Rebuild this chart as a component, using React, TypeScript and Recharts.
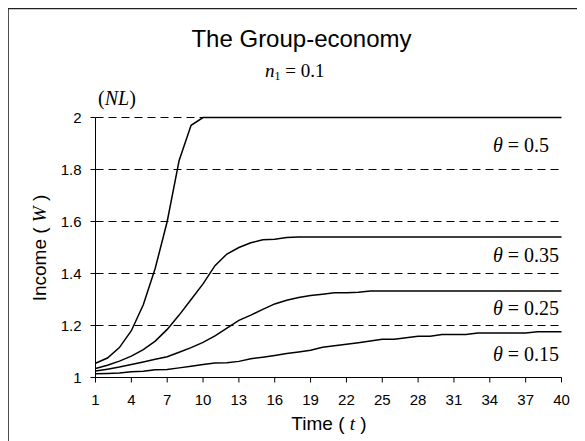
import { LineChart, Line, XAxis, YAxis, CartesianGrid } from "recharts";

const times = [
  1, 2, 3, 4, 5, 6, 7, 8, 9, 10, 11, 12, 13, 14, 15, 16, 17, 18, 19, 20,
  21, 22, 23, 24, 25, 26, 27, 28, 29, 30, 31, 32, 33, 34, 35, 36, 37, 38, 39, 40,
];

const theta050 = [
  1.055, 1.075, 1.115, 1.18, 1.28, 1.42, 1.6, 1.835, 1.97, 2.0,
  2.0, 2.0, 2.0, 2.0, 2.0, 2.0, 2.0, 2.0, 2.0, 2.0,
  2.0, 2.0, 2.0, 2.0, 2.0, 2.0, 2.0, 2.0, 2.0, 2.0,
  2.0, 2.0, 2.0, 2.0, 2.0, 2.0, 2.0, 2.0, 2.0, 2.0,
];

const theta035 = [
  1.035, 1.047, 1.063, 1.082, 1.107, 1.14, 1.185, 1.24, 1.3, 1.36,
  1.43, 1.475, 1.5, 1.518, 1.53, 1.532, 1.538, 1.54, 1.54, 1.54,
  1.54, 1.54, 1.54, 1.54, 1.54, 1.54, 1.54, 1.54, 1.54, 1.54,
  1.54, 1.54, 1.54, 1.54, 1.54, 1.54, 1.54, 1.54, 1.54, 1.54,
];

const theta025 = [
  1.025, 1.032, 1.04, 1.05, 1.06, 1.07, 1.08, 1.097, 1.115, 1.135,
  1.16, 1.19, 1.22, 1.24, 1.262, 1.283, 1.297, 1.308, 1.315, 1.32,
  1.326, 1.326, 1.328, 1.333, 1.333, 1.333, 1.333, 1.333, 1.333, 1.333,
  1.333, 1.333, 1.333, 1.333, 1.333, 1.333, 1.333, 1.333, 1.333, 1.333,
];

const theta015 = [
  1.014, 1.015, 1.017, 1.022, 1.024, 1.03, 1.031, 1.037, 1.043, 1.05,
  1.056, 1.057, 1.062, 1.072, 1.078, 1.085, 1.092, 1.098, 1.105, 1.116,
  1.122, 1.128, 1.134, 1.14, 1.147, 1.147, 1.153, 1.159, 1.159, 1.165,
  1.165, 1.165, 1.171, 1.171, 1.171, 1.171, 1.171, 1.176, 1.176, 1.176,
];

const yTicks = [1, 1.2, 1.4, 1.6, 1.8, 2];

const data = times.map((t, i) => ({
  t,
  a: theta050[i],
  b: theta035[i],
  c: theta025[i],
  d: theta015[i],
}));

const sans = "'Liberation Sans', Arial, sans-serif";
const serif = "'Liberation Serif', 'Times New Roman', serif";

const thetaLabels = [
  { text: "0.5", y: 152 },
  { text: "0.35", y: 262 },
  { text: "0.25", y: 315 },
  { text: "0.15", y: 361 },
];

export default function App() {
  return (
    <div style={{ position: "relative", width: 577, height: 433 }}>
      <LineChart
        width={577}
        height={433}
        data={data}
        margin={{ top: 109.5, right: 23.5, left: 0, bottom: 0 }}
      >
        <CartesianGrid vertical={false} stroke="#000" strokeDasharray="8 5" />
        <XAxis
          dataKey="t"
          interval={2}
          height={63.5}
          stroke="#000"
          tickSize={5}
          tickMargin={12}
          tick={{ fill: "#000", fontSize: 15, fontFamily: sans }}
        />
        <YAxis
          type="number"
          domain={[1, 2]}
          ticks={yTicks}
          width={87.5}
          stroke="#000"
          tickSize={5}
          tickMargin={9}
          tickFormatter={(v: number) => String(+v.toFixed(1))}
          tick={{ fill: "#000", fontSize: 15, fontFamily: sans }}
        />
        <Line type="linear" dataKey="a" stroke="#000" strokeWidth={1.5} dot={false} isAnimationActive={false} />
        <Line type="linear" dataKey="b" stroke="#000" strokeWidth={1.5} dot={false} isAnimationActive={false} />
        <Line type="linear" dataKey="c" stroke="#000" strokeWidth={1.5} dot={false} isAnimationActive={false} />
        <Line type="linear" dataKey="d" stroke="#000" strokeWidth={1.5} dot={false} isAnimationActive={false} />
      </LineChart>
      <svg
        width={585}
        height={441}
        style={{ position: "absolute", left: -8, top: -8, pointerEvents: "none" }}
      >
        <line x1={7} y1={8.5} x2={585} y2={8.5} stroke="#222" strokeWidth={1.6} />
        <line x1={8} y1={8} x2={8} y2={441} stroke="#222" strokeWidth={1.6} />
        <text x={301.5} y={46.5} textAnchor="middle" fontFamily={sans} fontSize={24} fill="#000">
          The Group-economy
        </text>
        <text x={265} y={77} fontFamily={serif} fontSize={19} fill="#000">
          <tspan fontStyle="italic">n</tspan>
          <tspan fontSize={12} dy={3}>1</tspan>
          <tspan dy={-3}> = 0.1</tspan>
        </text>
        <text x={98} y={105} fontFamily={serif} fontSize={20} fill="#000">
          (<tspan fontStyle="italic">NL</tspan>)
        </text>
        {thetaLabels.map((l) => (
          <text key={l.text} x={493} y={l.y} fontFamily={serif} fontSize={20} fill="#000">
            <tspan fontStyle="italic">θ</tspan> = {l.text}
          </text>
        ))}
        <text x={329} y={430} textAnchor="middle" fontFamily={sans} fontSize={19} fill="#000">
          Time ( <tspan fontFamily={serif} fontStyle="italic">t</tspan> )
        </text>
        <text
          x={46}
          y={248}
          transform="rotate(-90 46 248)"
          textAnchor="middle"
          fontFamily={sans}
          fontSize={19}
          fill="#000"
        >
          Income ( <tspan fontFamily={serif} fontStyle="italic">W</tspan> )
        </text>
      </svg>
    </div>
  );
}
